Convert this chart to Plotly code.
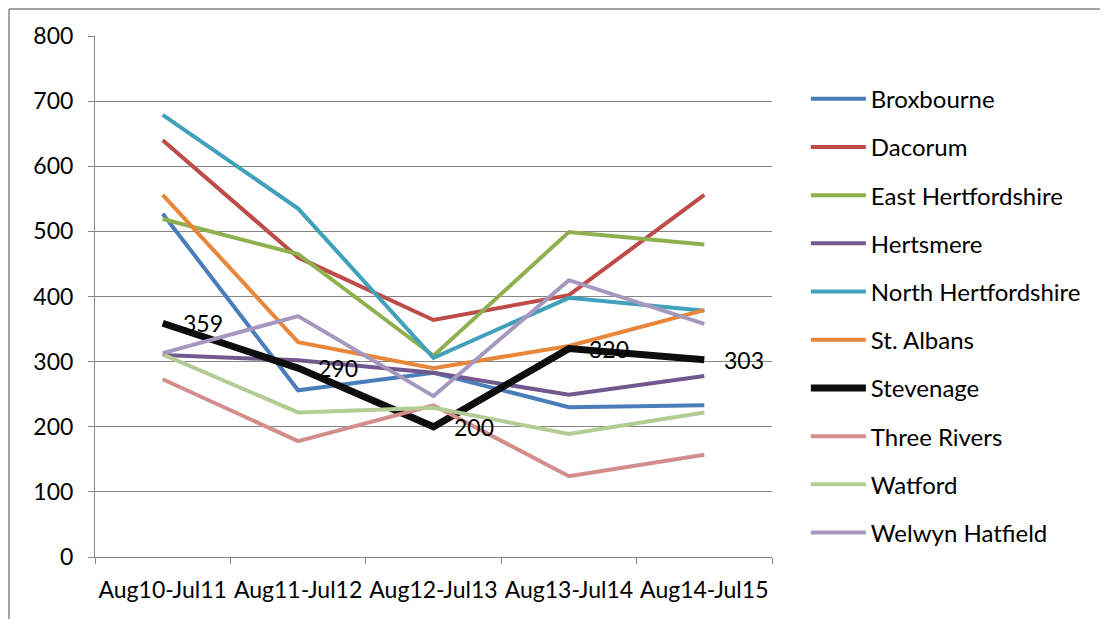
import plotly.graph_objects as go

periods = ["Aug10-Jul11", "Aug11-Jul12", "Aug12-Jul13", "Aug13-Jul14", "Aug14-Jul15"]

broxbourne = [527, 256, 283, 230, 233]
dacorum = [640, 460, 364, 402, 556]
east_herts = [519, 465, 309, 499, 480]
hertsmere = [310, 302, 283, 249, 278]
north_herts = [679, 535, 306, 398, 378]
st_albans = [556, 330, 290, 324, 379]
stevenage = [359, 290, 200, 320, 303]
three_rivers = [273, 178, 233, 124, 157]
watford = [311, 222, 229, 189, 222]
welwyn_hatfield = [313, 370, 247, 425, 358]

series = [
    ("Broxbourne", broxbourne, "#4A7EBB", 4),
    ("Dacorum", dacorum, "#BE4B48", 4),
    ("East Hertfordshire", east_herts, "#8EB04F", 4),
    ("Hertsmere", hertsmere, "#71588F", 4),
    ("North Hertfordshire", north_herts, "#41A1BA", 4),
    ("St. Albans", st_albans, "#E8873A", 4),
    ("Stevenage", stevenage, "#0D0D0D", 7),
    ("Three Rivers", three_rivers, "#D38D8B", 4),
    ("Watford", watford, "#B2CC94", 4),
    ("Welwyn Hatfield", welwyn_hatfield, "#A597BE", 4),
]

FONT = "Lato, Open Sans, sans-serif"
FS = 23

fig = go.Figure()
for name, vals, color, w in series:
    fig.add_trace(go.Scatter(
        x=periods, y=vals, name=name, legendgroup=name, mode="lines",
        line=dict(color=color, width=w),
    ))

annotations = [
    dict(x=p, y=v, xref="x", yref="y", text=str(v), showarrow=False,
         xanchor="left", yanchor="middle", xshift=18,
         font=dict(family=FONT, size=FS, color="#000000"))
    for p, v in zip(periods, stevenage)
]

# page body has an 8px margin; compensate so the plot area sits where the reference has it
OFF = 8
L, T, R, B = 95, 36, 336, 62
PW, PH = 1108 - L - R, 619 - T - B
BX, BY = 9, 9  # border corner in screen pixels

fig.update_layout(
    width=1108, height=619,
    margin=dict(l=L - OFF, r=R + OFF, t=T - OFF, b=B + OFF),
    paper_bgcolor="white", plot_bgcolor="white",
    font=dict(family=FONT, size=FS, color="#000000"),
    showlegend=True,
    legend=dict(x=1.05, xanchor="left", y=0.922, yanchor="top",
                font=dict(family=FONT, size=24), tracegroupgap=14,
                itemwidth=55, bgcolor="rgba(0,0,0,0)"),
    xaxis=dict(type="category", showgrid=False, showline=True, linecolor="#868686",
               linewidth=1, ticks="outside", tickson="boundaries", ticklen=6,
               tickcolor="#868686", tickfont=dict(size=23), tickangle=0,
               ticklabelstandoff=12, automargin=False, range=[-0.5, 4.5]),
    yaxis=dict(range=[0, 800], dtick=100, showgrid=True, gridcolor="#868686",
               gridwidth=1, showline=True, linecolor="#868686", ticks="outside",
               ticklen=6, tickcolor="#868686", tickfont=dict(size=FS), zeroline=False,
               ticklabelstandoff=10, automargin=False),
    annotations=annotations,
    shapes=[
        dict(type="line", xref="paper", yref="paper",
             x0=(BX - L) / PW, x1=(1108 - L) / PW, y0=(557 - BY) / PH, y1=(557 - BY) / PH,
             line=dict(color="#868686", width=1.5), layer="above"),
        dict(type="line", xref="paper", yref="paper",
             x0=(BX - L) / PW, x1=(BX - L) / PW, y0=(557 - BY) / PH, y1=(557 - 619) / PH,
             line=dict(color="#868686", width=1.5), layer="above"),
    ],
)

fig.write_html("out.html")
